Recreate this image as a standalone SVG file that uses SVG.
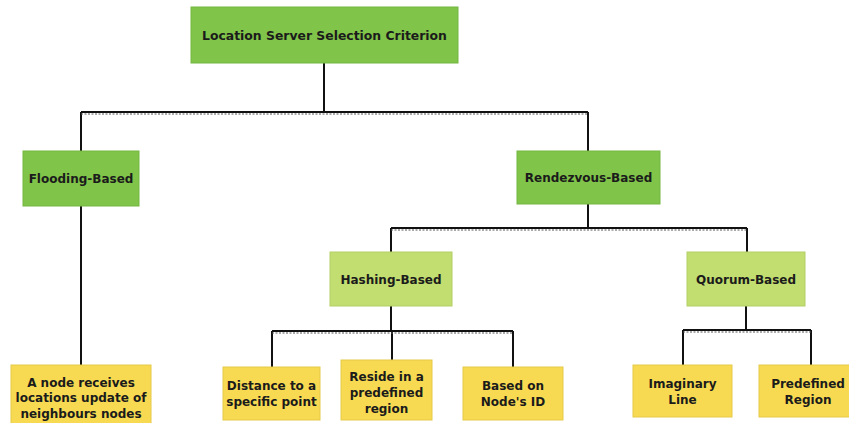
<svg xmlns="http://www.w3.org/2000/svg" width="849" height="423" viewBox="0 0 849 423">
<style>
.g1{fill:#80c44a;stroke:#75b742;stroke-width:1}
.g2{fill:#c2dd70;stroke:#b3cf66;stroke-width:1}
.y{fill:#f7da52;stroke:#e6c948;stroke-width:1}
text{font-family:"DejaVu Sans","Liberation Sans",sans-serif;font-weight:bold;fill:#1b1b1b;text-anchor:middle}
.t1{font-size:12.4px}
.t2{font-size:12px}
.conn{fill:none;stroke:#111;stroke-width:2}
.dash{fill:none;stroke:#555;stroke-width:1;stroke-dasharray:2 1.5}
</style>
<rect width="849" height="423" fill="#fff"/>
<g id="connectors">
<path class="conn" d="M324 63V112M81 112H588M81 112V151M588 112V151M81 206V365M588 204V228M391 228H747M391 228V252M747 228V252M391 306V331M272 331H513M272 331V367M392 331V360M513 331V367M746 306V330M683 330H811M683 330V365M811 330V365"/>
<path class="dash" d="M81 114H588M391 230H747M272 333H513M683 332H811"/>
</g>
<g id="root"><rect class="g1" x="191" y="7" width="267" height="56"/><text class="t1" x="324.5" y="39.5">Location Server Selection Criterion</text></g>
<g id="flooding"><rect class="g1" x="23" y="151" width="116" height="55"/><text class="t2" x="81" y="183">Flooding-Based</text></g>
<g id="rendezvous"><rect class="g1" x="517" y="151" width="143" height="53"/><text class="t2" x="588.5" y="182">Rendezvous-Based</text></g>
<g id="hashing"><rect class="g2" x="330" y="252" width="122" height="54"/><text class="t2" x="391" y="283.5">Hashing-Based</text></g>
<g id="quorum"><rect class="g2" x="687" y="252" width="118" height="54"/><text class="t2" x="746" y="283.5">Quorum-Based</text></g>
<g id="anode"><rect class="y" x="11" y="365" width="140" height="60"/><text class="t2" x="81" y="386.5">A node receives</text><text class="t2" x="81" y="402">locations update of</text><text class="t2" x="81" y="417.5">neighbours nodes</text></g>
<g id="distance"><rect class="y" x="223" y="367" width="97" height="53"/><text class="t2" x="271.5" y="390">Distance to a</text><text class="t2" x="271.5" y="406">specific point</text></g>
<g id="reside"><rect class="y" x="341" y="360" width="91" height="60"/><text class="t2" x="386.5" y="381">Reside in a</text><text class="t2" x="386.5" y="397">predefined</text><text class="t2" x="386.5" y="413">region</text></g>
<g id="basedon"><rect class="y" x="463" y="367" width="100" height="53"/><text class="t2" x="513" y="390">Based on</text><text class="t2" x="513" y="406">Node's ID</text></g>
<g id="imaginary"><rect class="y" x="633" y="365" width="99" height="52"/><text class="t2" x="682.5" y="387.5">Imaginary</text><text class="t2" x="682.5" y="404">Line</text></g>
<g id="predefined"><rect class="y" x="759" y="365" width="92" height="52"/><text class="t2" x="808" y="387.5">Predefined</text><text class="t2" x="808" y="404">Region</text></g>
</svg>
